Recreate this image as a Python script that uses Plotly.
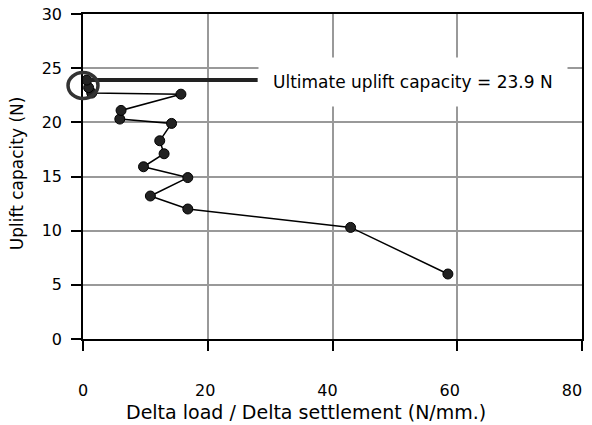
import plotly.graph_objects as go

# Pull-out test: stiffness ratio vs. applied uplift load
ratio = [58.5, 42.9, 16.8, 10.8, 16.8, 9.7, 13.0, 12.3, 14.2, 5.9, 6.1, 15.7, 1.4, 0.9, 0.6]
load = [6.0, 10.3, 12.0, 13.2, 14.9, 15.9, 17.1, 18.3, 19.9, 20.3, 21.1, 22.6, 22.7, 23.2, 23.9]

ultimate = 23.9
x_range = [0, 80]
y_range = [0, 30]
x_ticks = [0, 20, 40, 60, 80]
y_ticks = [0, 5, 10, 15, 20, 25, 30]

FONT = "DejaVu Sans"
LABEL_SQUEEZE = 0.98  # x tick labels sit on a slightly compressed scale

fig = go.Figure()
fig.add_trace(go.Scatter(
    x=ratio, y=load, mode="lines+markers",
    line=dict(color="#000000", width=1.5),
    marker=dict(size=10, color="#222222", line=dict(color="#000000", width=1)),
    cliponaxis=False, showlegend=False,
))
# Empty trace that carries the label-only x axis
fig.add_trace(go.Scatter(x=[], y=[], xaxis="x2", yaxis="y",
                         showlegend=False, hoverinfo="skip"))

# Horizontal marker line at the ultimate capacity
fig.add_shape(type="line", xref="x", yref="y",
              x0=0, x1=28, y0=ultimate, y1=ultimate,
              line=dict(color="#222222", width=4))

# Ring around the failure point (paper coords so it is not clipped at the axis)
def px(v):
    return (v - x_range[0]) / (x_range[1] - x_range[0])

def py(v):
    return (v - y_range[0]) / (y_range[1] - y_range[0])

fig.add_shape(type="circle", xref="paper", yref="paper",
              x0=px(-2.4), x1=px(2.4), y0=py(ultimate - 1.7), y1=py(ultimate + 0.7),
              line=dict(color="#333333", width=3.5))

fig.add_annotation(x=28, y=23.7, xref="x", yref="y",
                   text=f"Ultimate uplift capacity = {ultimate} N",
                   showarrow=False, xanchor="left", yanchor="middle",
                   bgcolor="#ffffff", borderpad=14,
                   font=dict(family=FONT, size=17, color="#000000"))

fig.add_annotation(x=0.4475, y=-0.226, xref="paper", yref="paper",
                   text="Delta load / Delta settlement (N/mm.)",
                   showarrow=False, xanchor="center", yanchor="middle",
                   font=dict(family=FONT, size=19, color="#000000"))

fig.add_annotation(x=-0.1317, y=0.511, xref="paper", yref="paper",
                   text="Uplift capacity (N)", textangle=-90,
                   showarrow=False, xanchor="center", yanchor="middle",
                   font=dict(family=FONT, size=17, color="#000000"))

axis_common = dict(
    showline=True, linecolor="#000000", linewidth=1.5, mirror=True,
    ticks="outside", ticklen=10, tickwidth=1.5, tickcolor="#000000",
    showgrid=True, gridcolor="#999999", gridwidth=2,
    zeroline=False, automargin=False,
    tickfont=dict(family=FONT, size=16, color="#000000"),
)

fig.update_xaxes(range=x_range, tickvals=x_ticks, showticklabels=False, **axis_common)
fig.update_yaxes(range=y_range, tickvals=y_ticks, ticklabelstandoff=6, **axis_common)

fig.update_layout(
    width=592, height=425,
    margin=dict(l=83, r=10, t=14, b=86),
    paper_bgcolor="#ffffff", plot_bgcolor="#ffffff",
    font=dict(family=FONT, color="#000000"),
    xaxis2=dict(
        overlaying="x", anchor="y", side="bottom",
        range=[x_range[0], x_range[1] / LABEL_SQUEEZE],
        tickvals=x_ticks, ticks="", showline=False, showgrid=False,
        zeroline=False, automargin=False, ticklabelstandoff=40,
        ticklabeloverflow="allow",
        tickfont=dict(family=FONT, size=16, color="#000000"),
    ),
)

fig.write_html("out.html")
